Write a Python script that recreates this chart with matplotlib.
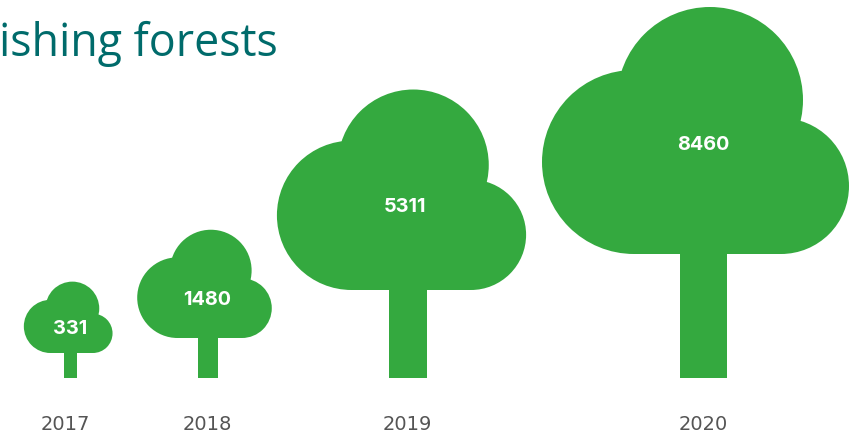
import matplotlib
matplotlib.use("Agg")
import matplotlib.pyplot as plt
from matplotlib.patches import Circle, Rectangle

# Chart data
years = ["2017", "2018", "2019", "2020"]
forests = [331, 1480, 5311, 8460]

# Layout in pixels, the trees are not drawn to a simple scale of the values
tree_x = [70.5, 208, 408, 703.5]
crown_widths = [89, 135, 250, 308]
trunk_heights = [25, 40, 88, 124]
value_x = [70.5, 207, 405, 703]
value_y = [329, 300, 207, 145]
year_x = [65.5, 207, 407, 703]
BASE_Y = 378
GREEN = "#34a93f"


# Draws one tree, the crown is three circles and a filler block on top of a trunk
def draw_tree(ax, x, width, trunk_height):
    bottom = BASE_Y - trunk_height
    parts = [
        Circle((x + (-69.5 / 308) * width, bottom - (92 / 308) * width), (92 / 308) * width),
        Circle((x + (6.5 / 308) * width, bottom - (154 / 308) * width), (93 / 308) * width),
        Circle((x + (77.5 / 308) * width, bottom - (68 / 308) * width), (68 / 308) * width),
        Rectangle((x - (69.5 / 308) * width, bottom - (92 / 308) * width), (147 / 308) * width, (92 / 308) * width),
        Rectangle((x - (23.5 / 308) * width, bottom - 1), (47 / 308) * width, trunk_height + 1),
    ]
    for part in parts:
        part.set_facecolor(GREEN)
        part.set_edgecolor("none")
        ax.add_patch(part)


fig = plt.figure(figsize=(8.58, 4.33), dpi=100)
ax = fig.add_axes([0, 0, 1, 1])
ax.set_xlim(0, 858)
ax.set_ylim(433, 0)
ax.axis("off")

for i in range(len(years)):
    draw_tree(ax, tree_x[i], crown_widths[i], trunk_heights[i])
    ax.text(value_x[i], value_y[i], str(forests[i]), color="white", fontsize=14.3, fontweight="bold",
            family="Inter", ha="center", va="center")
    ax.text(year_x[i], 424, years[i], color="#555555", fontsize=14, family="DejaVu Sans", ha="center", va="center")

ax.text(-1, 56, "ishing forests", color="#006b6b", fontsize=32.2, fontweight="medium", family="Open Sans",
        ha="left", va="baseline")

fig.savefig("out.png", dpi=100)
